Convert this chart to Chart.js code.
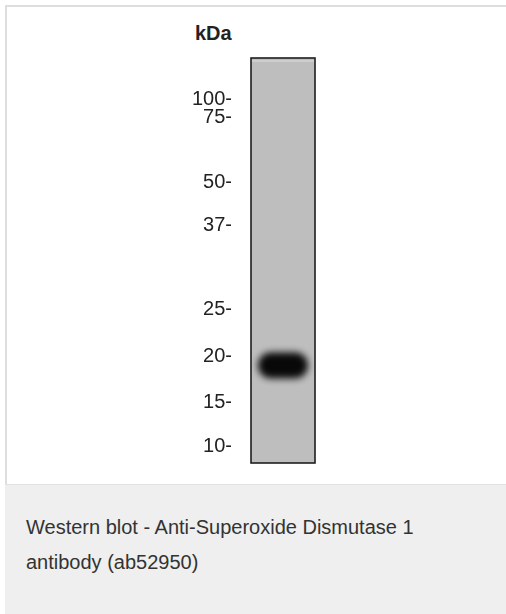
<!DOCTYPE html>
<html>
<head>
<meta charset="utf-8">
<script src="https://cdn.jsdelivr.net/npm/chart.js@4.4.1/dist/chart.umd.min.js"></script>
<style>
  html, body { margin: 0; padding: 0; background: #fff; }
  body { width: 506px; height: 614px; position: relative; overflow: hidden; font-family: "Liberation Sans", Arial, sans-serif; }
  .panel { position: absolute; left: 5px; top: 5px; width: 510px; height: 477px; border-left: 2px solid #dedede; border-top: 2px solid #dedede; border-bottom: 1px solid #e2e2e2; background: #fff; }
  .caption { position: absolute; left: 5px; top: 485px; width: 510px; height: 129px; background: #eeefee; color: #333; font-size: 20px; line-height: 35px; }
  .caption p { margin: 0; padding: 25px 0 0 21px; width: 420px; }
  .unit { position: absolute; left: 195px; top: 22px; font-size: 20px; font-weight: bold; color: #222; }
  #blot { position: absolute; left: 0; top: 0; }
</style>
</head>
<body>
<div class="panel"></div>
<div class="unit">kDa</div>
<div style="position:absolute;left:0;top:0;width:506px;height:484px;">
  <canvas id="blot"></canvas>
</div>
<div class="caption"><p>Western blot - Anti-Superoxide Dismutase 1 antibody (ab52950)</p></div>
<script>
// marker ladder: size (kDa) and relative migration (0 = well, 1 = end of lane)
var markerSizes = [100, 75, 50, 37, 25, 20, 15, 10];
var markerMigration = [0.103, 0.147, 0.307, 0.413, 0.622, 0.737, 0.850, 0.958];

// detected band (SOD1, ~18 kDa)
var bandLane = [0.5];
var bandMigration = [0.759];

var laneColor = '#bebebe';

function makeBandImage() {
  var c = document.createElement('canvas');
  c.width = 70;
  c.height = 46;
  var g = c.getContext('2d');
  g.filter = 'blur(3.5px)';
  g.fillStyle = '#080808';
  g.beginPath();
  g.roundRect(10, 10, 50, 26, 13);
  g.fill();
  return c;
}

var lanePlugin = {
  id: 'lane',
  beforeDatasetsDraw: function (chart) {
    var a = chart.chartArea;
    var ctx = chart.ctx;
    ctx.save();
    ctx.fillStyle = laneColor;
    ctx.fillRect(a.left, a.top, a.right - a.left, a.bottom - a.top);
    ctx.fillStyle = 'rgba(255,255,255,0.25)';
    ctx.fillRect(a.left, a.top + 2, a.right - a.left, 2);
    ctx.restore();
  },
  afterDatasetsDraw: function (chart) {
    var a = chart.chartArea;
    var ctx = chart.ctx;
    ctx.save();
    ctx.strokeStyle = '#1e1e1e';
    ctx.lineWidth = 1.6;
    ctx.strokeRect(a.left, a.top, a.right - a.left, a.bottom - a.top);
    ctx.restore();
  }
};

var points = bandLane.map(function (x, i) {
  return { x: x, y: bandMigration[i] };
});

new Chart(document.getElementById('blot'), {
  type: 'scatter',
  data: {
    datasets: [{
      label: 'SOD1',
      data: points,
      pointStyle: makeBandImage(),
      pointRadius: 20,
      pointHoverRadius: 20
    }]
  },
  options: {
    responsive: true,
    maintainAspectRatio: false,
    animation: false,
    events: [],
    layout: { padding: { left: 0, right: 191, top: 58, bottom: 17 } },
    plugins: {
      legend: { display: false },
      tooltip: { enabled: false }
    },
    scales: {
      x: {
        display: false,
        min: 0,
        max: 1
      },
      y: {
        reverse: true,
        min: 0,
        max: 1,
        grid: { display: false, drawTicks: false },
        border: { display: false },
        afterFit: function (scale) {
          scale.width = 251;
          scale.paddingTop = 0;
          scale.paddingBottom = 0;
        },
        afterBuildTicks: function (scale) {
          scale.ticks = markerMigration.map(function (v) {
            return { value: v };
          });
        },
        ticks: {
          autoSkip: false,
          padding: 19,
          color: '#222',
          font: { family: '"Liberation Sans", Arial, sans-serif', size: 20 },
          callback: function (value) {
            var i = markerMigration.indexOf(value);
            return i >= 0 ? markerSizes[i] + '-' : '';
          }
        }
      }
    }
  },
  plugins: [lanePlugin]
});
</script>
</body>
</html>
